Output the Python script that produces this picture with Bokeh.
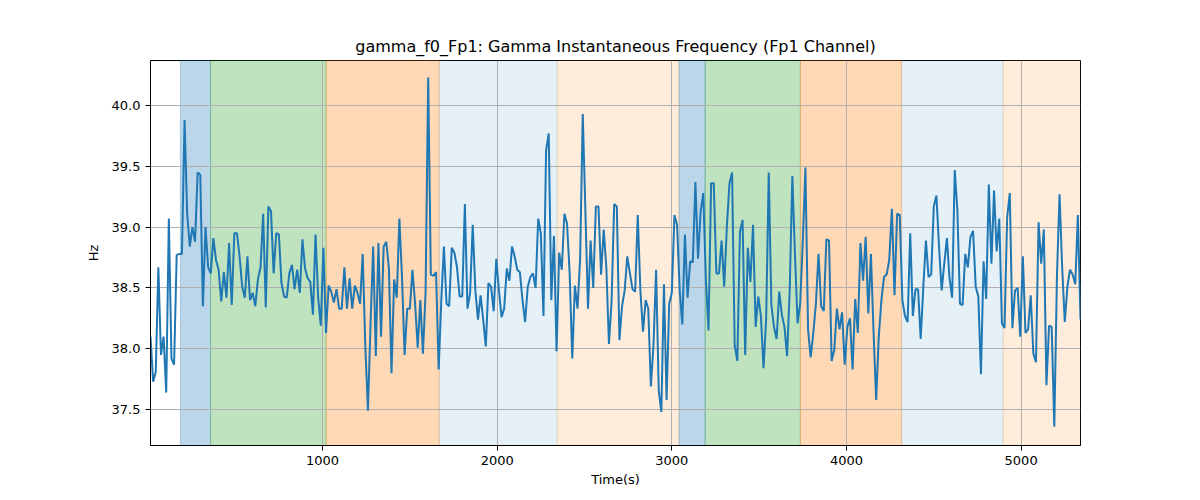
import numpy as np
from bokeh.embed import file_html
from bokeh.models import BoxAnnotation, FixedTicker, NumeralTickFormatter
from bokeh.plotting import figure
from bokeh.resources import INLINE

# sampling times (s): one estimate every 15 s
TIME = np.arange(15, 5341, 15)

# instantaneous frequency (Hz)
FREQ = [
    38.10, 37.73, 37.81, 38.67, 37.95, 38.10, 37.64, 39.07, 37.92, 37.87,
    38.77, 38.78, 38.78, 39.88, 39.11, 38.84, 39.00, 38.88, 39.45, 39.43,
    38.35, 39.00, 38.67, 38.62, 38.91, 38.73, 38.65, 38.39, 38.63, 38.42,
    38.87, 38.36, 38.95, 38.95, 38.76, 38.51, 38.42, 38.76, 38.40, 38.46,
    38.35, 38.57, 38.67, 39.11, 38.34, 39.17, 39.13, 38.62, 38.95, 38.94,
    38.54, 38.43, 38.42, 38.62, 38.69, 38.49, 38.65, 38.46, 38.90, 38.66,
    38.58, 38.55, 38.28, 38.94, 38.42, 38.19, 38.83, 38.13, 38.52, 38.47,
    38.38, 38.49, 38.33, 38.33, 38.67, 38.33, 38.58, 38.33, 38.52, 38.46,
    38.37, 38.78, 38.02, 37.49, 38.21, 38.84, 37.94, 38.87, 38.10, 38.84,
    38.88, 38.66, 37.80, 38.57, 38.42, 39.07, 38.59, 37.95, 38.33, 38.33,
    38.65, 38.37, 38.01, 38.40, 37.96, 38.46, 40.23, 38.61, 38.60, 38.63,
    37.83, 38.40, 38.84, 38.37, 38.35, 38.83, 38.79, 38.67, 38.43, 38.43,
    39.19, 38.33, 38.46, 39.02, 38.48, 38.24, 38.44, 38.24, 38.02, 38.54,
    38.51, 38.31, 38.74, 38.48, 38.26, 38.33, 38.66, 38.56, 38.84, 38.76,
    38.65, 38.63, 38.40, 38.22, 38.51, 38.59, 38.62, 38.50, 39.07, 38.95,
    38.27, 39.63, 39.77, 38.40, 38.93, 37.98, 38.79, 38.65, 39.11, 39.03,
    38.62, 37.92, 38.52, 38.33, 38.74, 39.93, 39.14, 38.33, 38.89, 38.50,
    39.17, 39.17, 38.61, 38.98, 38.67, 38.04, 38.39, 39.19, 39.17, 38.07,
    38.35, 38.48, 38.76, 38.62, 38.49, 38.47, 39.10, 38.48, 38.14, 38.40,
    38.33, 37.69, 38.03, 38.65, 37.66, 37.48, 38.53, 37.58, 38.37,
    38.46, 39.10, 39.02, 38.48, 38.20, 38.94, 38.42, 38.72, 38.71, 39.37,
    38.74, 39.13, 39.28, 38.57, 38.15, 39.36, 39.36, 38.62, 38.62, 38.89,
    38.51, 39.00, 39.36, 39.45, 38.03, 37.90, 38.96, 39.06, 37.95, 38.83,
    38.55, 39.02, 38.18, 38.43, 38.27, 37.84, 38.24, 39.45, 38.36, 38.18,
    38.08, 38.47, 38.28, 38.18, 37.94, 38.48, 39.42, 38.78, 38.21, 38.37,
    38.89, 39.49, 38.16, 37.93, 38.13, 38.37, 38.78, 38.35, 38.31, 38.90,
    38.89, 37.90, 37.99, 38.33, 38.16, 38.30, 37.87, 38.18, 38.25, 37.83,
    38.41, 38.13, 38.87, 38.56, 38.92, 38.29, 38.78, 38.14, 37.58,
    38.10, 38.40, 38.59, 38.61, 38.73, 39.15, 38.44, 39.11, 39.10, 38.40,
    38.27, 38.22, 38.95, 38.27, 38.49, 38.49, 38.08, 38.51, 38.89, 38.59,
    38.61, 39.17, 39.26, 38.84, 38.48, 38.70, 38.91, 38.58, 38.42, 39.47,
    39.14, 38.37, 38.36, 38.78, 38.67, 38.92, 38.97, 38.51, 38.43, 37.79,
    38.72, 38.41, 39.35, 38.70, 39.30, 38.80, 39.07, 38.21, 38.17, 39.08,
    39.28, 38.17, 38.48, 38.50, 38.10, 38.76, 38.13, 38.16, 38.44, 37.96,
    37.89, 39.04, 38.70, 38.98, 37.70, 38.19, 38.18, 37.36, 38.59, 39.27,
    38.67, 38.22, 38.51, 38.65, 38.61, 38.53, 39.10, 38.24,
]

# shaded stage intervals (s)
BAND_START = [186, 359, 1021, 1668, 2343, 3042, 3191, 3736, 4316, 4897]
BAND_END = [359, 1021, 1668, 2343, 3042, 3191, 3736, 4316, 4897, 5345]
BAND_COLOR = ["#1f77b4", "#2ca02c", "#ff7f0e", "#1f77b4", "#ff7f0e",
              "#1f77b4", "#2ca02c", "#ff7f0e", "#1f77b4", "#ff7f0e"]
BAND_ALPHA = [0.3, 0.3, 0.3, 0.11, 0.15, 0.3, 0.3, 0.3, 0.11, 0.15]

X_TICKS = [1000, 2000, 3000, 4000, 5000]
Y_TICKS = [37.5, 38.0, 38.5, 39.0, 39.5, 40.0]

FONT = "DejaVu Sans"

p = figure(width=1192, height=492, output_backend="svg", toolbar_location=None,
           x_range=(TIME[0], TIME[-1]), y_range=(37.205, 40.37),
           title="gamma_f0_Fp1: Gamma Instantaneous Frequency (Fp1 Channel)",
           min_border_left=150, min_border_right=112,
           min_border_top=60, min_border_bottom=47)

for start, end, color, alpha in zip(BAND_START, BAND_END, BAND_COLOR, BAND_ALPHA):
    p.add_layout(BoxAnnotation(left=start, right=end, level="image",
                               fill_color=color, fill_alpha=alpha,
                               line_color=color, line_alpha=alpha, line_width=1))

p.line(TIME, FREQ, line_color="#1f77b4", line_width=2)

p.title.align = "center"
p.title.text_font = FONT
p.title.text_font_size = "16px"
p.title.text_font_style = "normal"
p.title.text_color = "black"

p.xaxis.axis_label = "Time(s)"
p.yaxis.axis_label = "Hz"
p.xaxis.ticker = FixedTicker(ticks=X_TICKS)
p.yaxis.ticker = FixedTicker(ticks=Y_TICKS)
p.yaxis.formatter = NumeralTickFormatter(format="0.0")

for ax in (p.xaxis, p.yaxis):
    ax.axis_label_text_font = FONT
    ax.axis_label_text_font_size = "13px"
    ax.axis_label_text_font_style = "normal"
    ax.axis_label_text_color = "black"
    ax.major_label_text_font = FONT
    ax.major_label_text_font_size = "13px"
    ax.major_label_text_color = "black"
    ax.axis_line_color = "black"
    ax.major_tick_line_color = "black"
    ax.major_tick_in = 0
    ax.major_tick_out = 5
    ax.minor_tick_line_color = None
p.xaxis.axis_label_standoff = 4
p.yaxis.axis_label_standoff = 8

p.grid.grid_line_color = "#b0b0b0"
p.grid.grid_line_width = 1
p.outline_line_color = "black"
p.outline_line_alpha = 1
p.background_fill_color = "white"
p.border_fill_color = "white"

open("out.html", "w").write(file_html(p, INLINE))
